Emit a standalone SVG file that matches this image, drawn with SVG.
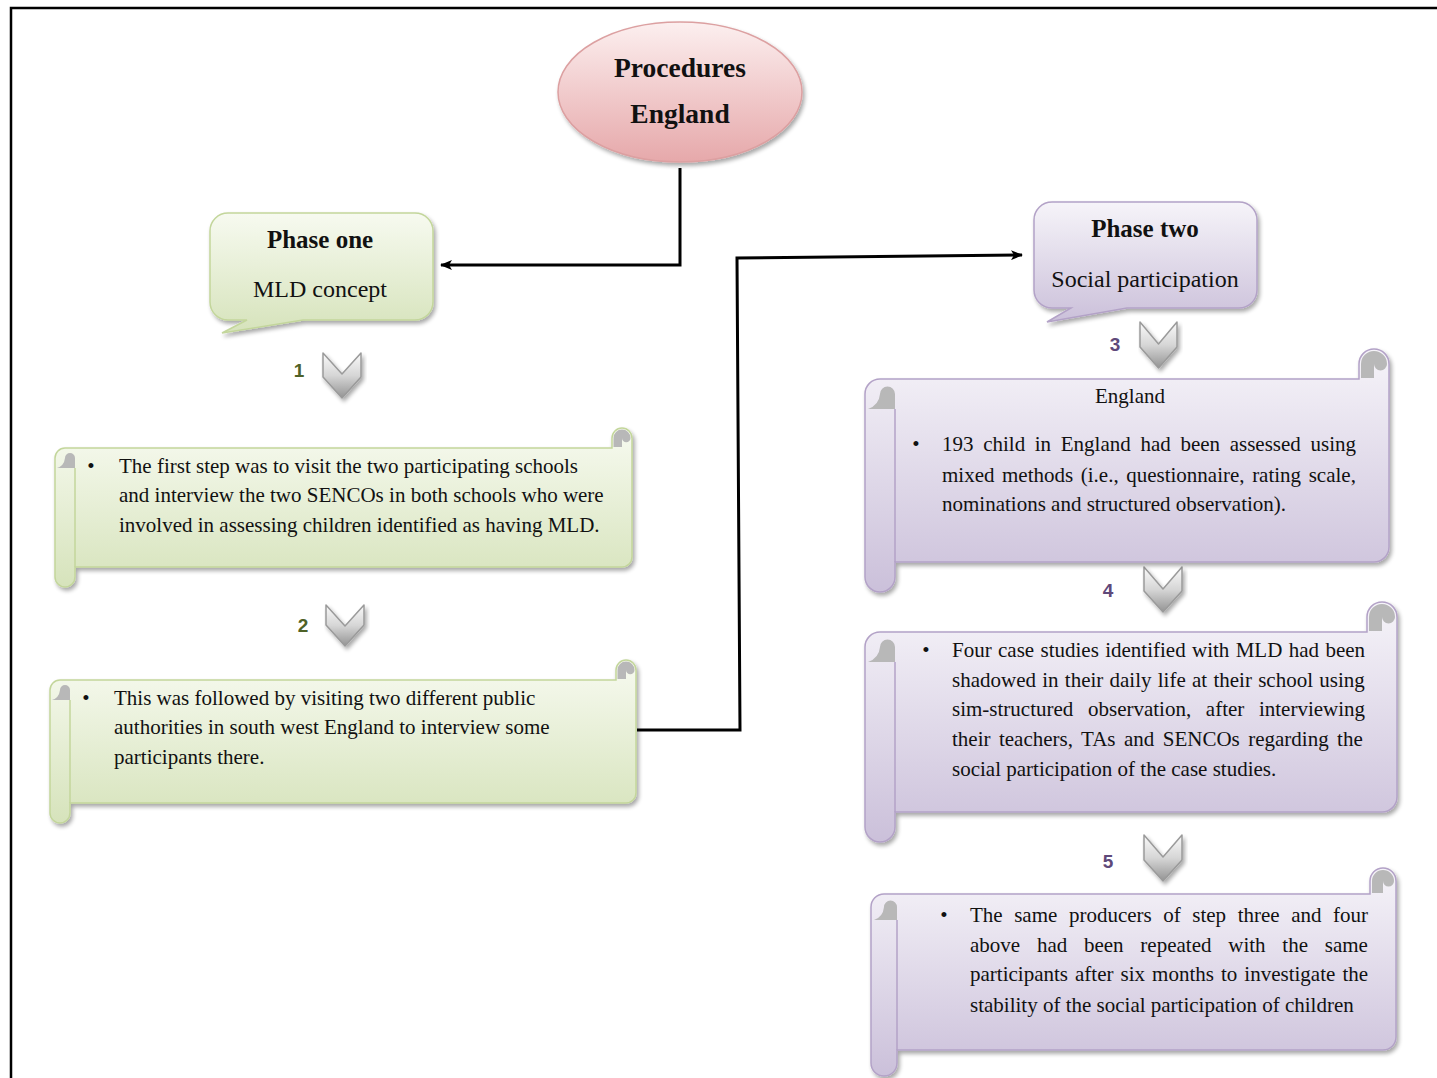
<svg xmlns="http://www.w3.org/2000/svg" width="1437" height="1078" viewBox="0 0 1437 1078">
  <style>
    .frame { fill: none; stroke: #000; stroke-width: 2.5; }
    .conn { fill: none; stroke: #000; stroke-width: 3; }
    .body { font-family: "Liberation Serif", "Times New Roman", serif; font-size: 21px; fill: #111; }
    .head { font-family: "Liberation Serif", "Times New Roman", serif; font-weight: bold; fill: #111; }
    .sub { font-family: "Liberation Serif", "Times New Roman", serif; font-size: 24px; fill: #111; }
    .num { font-family: "Liberation Sans", Arial, sans-serif; font-weight: bold; font-size: 19px; text-anchor: middle; }
    .numG { fill: #4f6228; }
    .numP { fill: #5f497a; }
    .gScroll { fill: url(#gradGreen); stroke: #c3d69b; stroke-width: 1.5; }
    .pScroll { fill: url(#gradPurple); stroke: #b3a2c7; stroke-width: 1.5; }
    .gLine { fill: none; stroke: #c3d69b; stroke-width: 1.5; }
    .pLine { fill: none; stroke: #b3a2c7; stroke-width: 1.5; }
    .curl { fill: #b8b8b8; stroke: none; }
    .chev { fill: url(#gradChev); stroke: #9a9a9a; stroke-width: 1.5; stroke-linejoin: round; }
  </style>
  <defs>
    <linearGradient id="gradGreen" x1="0" y1="0" x2="0" y2="1">
      <stop offset="0" stop-color="#f7faf0"/>
      <stop offset="1" stop-color="#d6e3bb"/>
    </linearGradient>
    <linearGradient id="gradPurple" x1="0" y1="0" x2="0" y2="1">
      <stop offset="0" stop-color="#f6f4f9"/>
      <stop offset="1" stop-color="#cbc0da"/>
    </linearGradient>
    <linearGradient id="gradPink" x1="0" y1="0" x2="0" y2="1">
      <stop offset="0" stop-color="#fcefef"/>
      <stop offset="1" stop-color="#e6a8aa"/>
    </linearGradient>
    <linearGradient id="gradChev" x1="0" y1="0" x2="0" y2="1">
      <stop offset="0" stop-color="#fafafa"/>
      <stop offset="0.5" stop-color="#d6d6d6"/>
      <stop offset="1" stop-color="#949494"/>
    </linearGradient>
    <filter id="shadow" x="-10%" y="-10%" width="125%" height="130%">
      <feGaussianBlur in="SourceAlpha" stdDeviation="2"/>
      <feOffset dx="2" dy="3" result="b"/>
      <feComponentTransfer><feFuncA type="linear" slope="0.35"/></feComponentTransfer>
      <feMerge><feMergeNode/><feMergeNode in="SourceGraphic"/></feMerge>
    </filter>
    <marker id="arrow" viewBox="0 0 12 10" refX="11" refY="5" markerWidth="12" markerHeight="10" markerUnits="userSpaceOnUse" orient="auto">
      <path d="M0,0 L12,5 L0,10 L3,5 Z" fill="#000"/>
    </marker>
  </defs>

  <rect width="1437" height="1078" fill="#fff"/>
  <path class="frame" d="M11,1078 V8 H1437"/>

  <!-- connectors -->
  <g id="connectors">
    <path class="conn" d="M680,168 V265 H441" marker-end="url(#arrow)"/>
    <path class="conn" d="M637,730 H740 L737,258 L1022,255" marker-end="url(#arrow)"/>
  </g>

  <!-- root ellipse -->
  <g id="procedures">
    <ellipse cx="680" cy="92" rx="122" ry="70" fill="url(#gradPink)" stroke="#dca0a1" stroke-width="1.5" filter="url(#shadow)"/>
    <text class="head" x="680" y="77" font-size="27.5" text-anchor="middle">Procedures</text>
    <text class="head" x="680" y="123" font-size="27.5" text-anchor="middle">England</text>
  </g>

  <!-- phase one callout -->
  <g id="phase-one">
    <path class="gScroll" filter="url(#shadow)" d="M228,213 H415 A18,18 0 0 1 433,231 V302 A18,18 0 0 1 415,320 H303 L222,333 L247,320 H228 A18,18 0 0 1 210,302 V231 A18,18 0 0 1 228,213 Z"/>
    <text class="head" x="320" y="248" font-size="25" text-anchor="middle">Phase one</text>
    <text class="sub" x="320" y="297" text-anchor="middle">MLD concept</text>
  </g>

  <!-- phase two callout -->
  <g id="phase-two">
    <path class="pScroll" filter="url(#shadow)" d="M1052,202 H1239 A18,18 0 0 1 1257,220 V290 A18,18 0 0 1 1239,308 H1127 L1047,322 L1071,308 H1052 A18,18 0 0 1 1034,290 V220 A18,18 0 0 1 1052,202 Z"/>
    <text class="head" x="1145" y="237" font-size="25" text-anchor="middle">Phase two</text>
    <text class="sub" x="1145" y="287" text-anchor="middle">Social participation</text>
  </g>

  <!-- step chevrons -->
  <g id="step-1">
    <path class="chev" filter="url(#shadow)" d="M323,353 L342,374 L361,353 V377 L342,398 L323,377 Z"/>
    <text class="num numG" x="299" y="377">1</text>
  </g>
  <g id="step-2">
    <path class="chev" filter="url(#shadow)" d="M326,605 L345,626 L364,605 V625 L345,646 L326,625 Z"/>
    <text class="num numG" x="303" y="632">2</text>
  </g>
  <g id="step-3">
    <path class="chev" filter="url(#shadow)" d="M1140,322 L1158.5,344 L1177,322 V347 L1158.5,368 L1140,347 Z"/>
    <text class="num numP" x="1115" y="351">3</text>
  </g>
  <g id="step-4">
    <path class="chev" filter="url(#shadow)" d="M1144,567 L1163,589 L1182,567 V591 L1163,612 L1144,591 Z"/>
    <text class="num numP" x="1108" y="597">4</text>
  </g>
  <g id="step-5">
    <path class="chev" filter="url(#shadow)" d="M1144,835 L1163,857 L1182,835 V860 L1163,881 L1144,860 Z"/>
    <text class="num numP" x="1108" y="868">5</text>
  </g>

  <!-- scroll 1 -->
  <g id="scroll-1">
    <path class="gScroll" filter="url(#shadow)" d="M55,458 A10,10 0 0 1 65,448 H612 V438 A10,10 0 0 1 632,438 V557 A10,10 0 0 1 622,567 H75 V577 A10,10 0 0 1 55,577 Z"/>
    <path class="curl" d="M613.5,447 V438 A8.5,8.5 0 0 1 630.5,438 A4.25,4.25 0 0 1 622,438 V447 Z"/>
    <path class="curl" d="M75,468 V458 A5,5 0 0 0 65,458 Q64,466 57,468 Z"/>
    <path class="gLine" d="M75,468 V567"/>
    <text class="body" x="91" y="473" text-anchor="middle">•</text>
    <text class="body" x="119" y="473">The first step was to visit the two participating schools</text>
    <text class="body" x="119" y="502">and interview the two SENCOs in both schools who were</text>
    <text class="body" x="119" y="532">involved in assessing children identified as having MLD.</text>
  </g>

  <!-- scroll 2 -->
  <g id="scroll-2">
    <path class="gScroll" filter="url(#shadow)" d="M50,690 A10,10 0 0 1 60,680 H616 V670 A10,10 0 0 1 636,670 V793 A10,10 0 0 1 626,803 H70 V813 A10,10 0 0 1 50,813 Z"/>
    <path class="curl" d="M617.5,679 V670 A8.5,8.5 0 0 1 634.5,670 A4.25,4.25 0 0 1 626,670 V679 Z"/>
    <path class="curl" d="M70,700 V690 A5,5 0 0 0 60,690 Q59,698 52,700 Z"/>
    <path class="gLine" d="M70,700 V803"/>
    <text class="body" x="86" y="705" text-anchor="middle">•</text>
    <text class="body" x="114" y="705">This was followed by visiting two different public</text>
    <text class="body" x="114" y="734">authorities in south west England to interview some</text>
    <text class="body" x="114" y="764">participants there.</text>
  </g>

  <!-- scroll 3 -->
  <g id="scroll-3">
    <path class="pScroll" filter="url(#shadow)" d="M865,394 A15,15 0 0 1 880,379 H1359 V364 A15,15 0 0 1 1389,364 V547 A15,15 0 0 1 1374,562 H895 V577 A15,15 0 0 1 865,577 Z"/>
    <path class="curl" d="M1361,378 V364 A13,13 0 0 1 1387,364 A6.5,6.5 0 0 1 1374,364 V378 Z"/>
    <path class="curl" d="M895,409 V394 A7.5,7.5 0 0 0 880,394 Q879,405 868,409 Z"/>
    <path class="pLine" d="M895,409 V562"/>
    <text class="body" x="1130" y="403" text-anchor="middle">England</text>
    <text class="body" x="916" y="451" text-anchor="middle">•</text>
    <text class="body" x="942" y="451" word-spacing="4.4">193 child in England had been assessed using</text>
    <text class="body" x="942" y="482" word-spacing="2.3">mixed methods (i.e., questionnaire, rating scale,</text>
    <text class="body" x="942" y="511">nominations and structured observation).</text>
  </g>

  <!-- scroll 4 -->
  <g id="scroll-4">
    <path class="pScroll" filter="url(#shadow)" d="M865,647 A15,15 0 0 1 880,632 H1367 V617 A15,15 0 0 1 1397,617 V797 A15,15 0 0 1 1382,812 H895 V827 A15,15 0 0 1 865,827 Z"/>
    <path class="curl" d="M1369,631 V617 A13,13 0 0 1 1395,617 A6.5,6.5 0 0 1 1382,617 V631 Z"/>
    <path class="curl" d="M895,662 V647 A7.5,7.5 0 0 0 880,647 Q879,658 868,662 Z"/>
    <path class="pLine" d="M895,662 V812"/>
    <text class="body" x="926" y="657" text-anchor="middle">•</text>
    <text class="body" x="952" y="657" word-spacing="1.1">Four case studies identified with MLD had been</text>
    <text class="body" x="952" y="687" word-spacing="1">shadowed in their daily life at their school using</text>
    <text class="body" x="952" y="716" word-spacing="9.4">sim-structured observation, after interviewing</text>
    <text class="body" x="952" y="746" word-spacing="3.2">their teachers, TAs and SENCOs regarding the</text>
    <text class="body" x="952" y="776">social participation of the case studies.</text>
  </g>

  <!-- scroll 5 -->
  <g id="scroll-5">
    <path class="pScroll" filter="url(#shadow)" d="M871,907 A13,13 0 0 1 884,894 H1370 V881 A13,13 0 0 1 1396,881 V1037 A13,13 0 0 1 1383,1050 H897 V1063 A13,13 0 0 1 871,1063 Z"/>
    <path class="curl" d="M1372,893 V881 A11,11 0 0 1 1394,881 A5.5,5.5 0 0 1 1383,881 V893 Z"/>
    <path class="curl" d="M897,920 V907 A6.5,6.5 0 0 0 884,907 Q883,917 874,920 Z"/>
    <path class="pLine" d="M897,920 V1050"/>
    <text class="body" x="944" y="922" text-anchor="middle">•</text>
    <text class="body" x="970" y="922" word-spacing="6.3">The same producers of step three and four</text>
    <text class="body" x="970" y="952" word-spacing="11.5">above had been repeated with the same</text>
    <text class="body" x="970" y="981" word-spacing="1.8">participants after six months to investigate the</text>
    <text class="body" x="970" y="1012">stability of the social participation of children</text>
  </g>
</svg>
